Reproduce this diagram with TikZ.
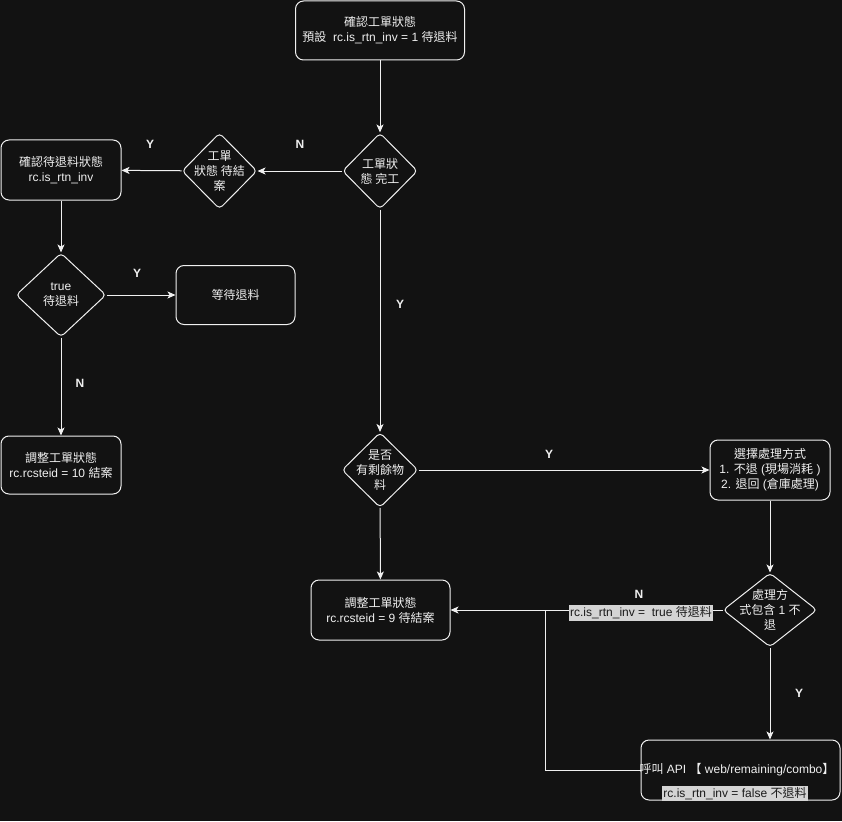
\documentclass[tikz,border=0pt]{standalone}
\usepackage{fontspec}
\setmainfont{Liberation Sans}
\newfontfamily\cjk{Noto Sans CJK TC}
\usetikzlibrary{arrows.meta,shapes.geometric}
\definecolor{bg}{HTML}{121212}
\definecolor{fg}{HTML}{F0F0F0}
\definecolor{lblbg}{HTML}{D4D4D4}
\definecolor{lbltxt}{HTML}{1A1A1A}
\newcommand{\zh}[1]{{\cjk #1}}
\tikzset{
  txt/.style={text=fg, align=center, font=\fontsize{12}{15}\selectfont, inner sep=0pt},
  box/.style={txt, draw=fg, line width=1pt, rounded corners=8pt, fill=bg},
  dia/.style={draw=fg, line width=1pt, diamond, rounded corners=4pt, inner sep=0pt, fill=bg, aspect=1},
  conn/.style={draw=fg, line width=1pt},
  arr/.style={conn, -{Stealth[length=8pt,width=7pt,inset=2pt]}},
  yn/.style={text=fg, font=\fontsize{12}{14}\selectfont\bfseries, inner sep=0pt},
  glabel/.style={fill=lblbg, text=lbltxt, inner xsep=1pt, inner ysep=1.5pt, font=\fontsize{12}{14}\selectfont}
}
\begin{document}
\begin{tikzpicture}[x=1pt,y=-1pt]
\fill[bg] (0,0) rectangle (842,821);
\useasboundingbox (0,0) rectangle (842,821);

% nodes
\node[box, minimum width=169pt, minimum height=59pt] (start) at (380,30.5)
  {\zh{確認工單狀態}\\\zh{預設}\ \ rc.is\_rtn\_inv = 1 \zh{待退料}};

\node[dia, minimum width=75pt, minimum height=76pt] (done) at (380,171) {};
\node[txt] (donet) at (done) {\zh{工單狀}\\\zh{態 完工}};

\node[dia, minimum width=75pt, minimum height=76pt] (pend) at (219.5,171) {};
\node[txt] (pendt) at (pend) {\zh{工單}\\\zh{狀態 待結}\\\zh{案}};

\node[box, minimum width=120pt, minimum height=60pt] (chk) at (61,170)
  {\zh{確認待退料狀態}\\rc.is\_rtn\_inv};

\node[dia, minimum width=90pt, minimum height=84pt] (tru) at (61,295) {};
\node[txt] (trut) at (tru) {true\\\zh{待退料}};

\node[box, minimum width=119pt, minimum height=59pt] (wait) at (235.5,295) {\zh{等待退料}};

\node[box, minimum width=120pt, minimum height=58pt] (adj10) at (61,465)
  {\zh{調整工單狀態}\\rc.rcsteid = 10 \zh{結案}};

\node[dia, minimum width=76pt, minimum height=75pt] (rem) at (380,470) {};
\node[txt] (remt) at (rem) {\zh{是否}\\\zh{有剩餘物}\\\zh{料}};

\node[box, minimum width=120pt, minimum height=60pt] (sel) at (770,470)
  {\zh{選擇處理方式}\\1. \zh{不退} (\zh{現場消耗} )\\2. \zh{退回} (\zh{倉庫處理})};

\node[dia, minimum width=94pt, minimum height=74pt] (mode) at (770,610) {};
\node[txt] (modet) at (mode) {\zh{處理方}\\\zh{式包含} 1 \zh{不}\\\zh{退}};

\node[box, minimum width=139pt, minimum height=60pt] (adj9) at (380.5,610)
  {\zh{調整工單狀態}\\rc.rcsteid = 9 \zh{待結案}};

\node[box, minimum width=199pt, minimum height=60pt] (api) at (740.5,770) {};
\node[txt] (apit) at (737,770) {\zh{呼叫} API \zh{【} web/remaining/combo\zh{】}};
\node[glabel] (apil) at (735,793.5) {rc.is\_rtn\_inv = false \zh{不退料}};

% connectors
\draw[arr] (start) -- (done);
\draw[arr] (done) -- (pend);
\draw[arr] (pend) -- (chk);
\draw[arr] (chk) -- (tru);
\draw[arr] (tru) -- (wait);
\draw[arr] (tru) -- (adj10);
\draw[arr] (done) -- (rem);
\draw[arr] (rem) -- (sel);
\draw[arr] (rem) -- (adj9);
\draw[arr] (sel) -- (mode);
\draw[arr] (mode) -- (adj9);
\draw[arr] (mode.south) -- (mode.south |- api.north);
\coordinate (join) at (545,610);
\draw[conn] (api.west) -| (join);

\node[glabel] (nlbl) at (641,613) {rc.is\_rtn\_inv =\ \ true \zh{待退料}};

% Y/N labels
\node[yn] (l1) at (150,144) {Y};
\node[yn] (l2) at (300,144) {N};
\node[yn] (l3) at (137,273) {Y};
\node[yn] (l4) at (80,383) {N};
\node[yn] (l5) at (400,304) {Y};
\node[yn] (l6) at (549,454) {Y};
\node[yn] (l7) at (639,594) {N};
\node[yn] (l8) at (799,693) {Y};
\end{tikzpicture}
\end{document}
